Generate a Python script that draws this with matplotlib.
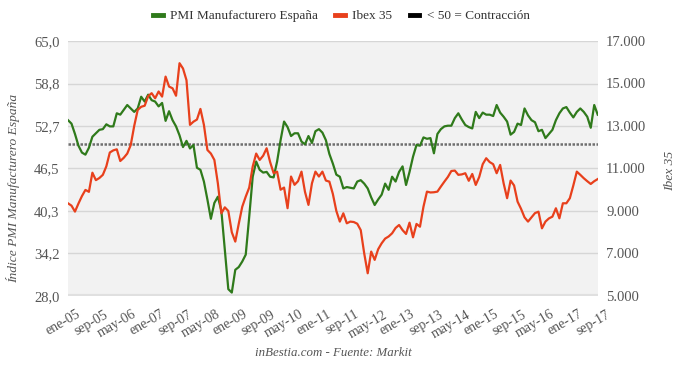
import matplotlib.pyplot as plt
import matplotlib.transforms as mtransforms
import numpy as np

# monthly data, ene-05 .. sep-17
pmi = [
    53.5, 53.0, 51.5, 49.8, 48.8, 48.5, 49.5, 51.1, 51.6, 52.1, 52.2, 52.9,
    52.6, 52.6, 54.5, 54.3, 55.0, 55.7, 55.2, 54.7, 55.2, 56.9, 56.2, 57.2,
    56.4, 56.2, 55.5, 56.0, 53.4, 54.8, 53.5, 52.6, 51.3, 49.6, 50.5, 49.4,
    49.9, 46.6, 46.3, 44.6, 42.0, 39.2, 41.5, 42.4, 40.4, 34.7, 29.0, 28.5,
    31.8, 32.2, 33.0, 34.0, 39.5, 45.3, 47.5, 46.3, 45.9, 46.0, 45.3, 45.2,
    47.5, 50.6, 53.3, 52.5, 51.2, 51.6, 51.6, 50.4, 50.0, 51.2, 50.2, 51.9,
    52.2, 51.7, 50.6, 48.6, 47.2, 45.6, 45.3, 43.6, 43.8, 43.7, 43.6, 44.6,
    44.8, 44.3, 43.6, 42.3, 41.2, 42.0, 42.7, 44.3, 43.4, 45.3, 44.6, 46.0,
    46.8, 44.1, 46.0, 48.2, 49.9, 49.8, 51.0, 50.8, 50.9, 48.7, 51.5, 52.2,
    52.6, 52.7, 52.7, 53.8, 54.5, 53.6, 52.8, 52.5, 52.3, 54.7, 53.8, 54.6,
    54.3, 54.3, 54.1, 55.7, 54.6, 54.0, 53.3, 51.4, 51.8, 53.0, 52.8, 55.2,
    54.2, 53.5, 53.2, 51.9, 52.1, 50.9, 51.5, 52.1, 53.5, 54.5, 55.2, 55.4,
    54.6, 53.9, 54.7, 55.2, 54.7, 54.0, 52.4, 55.7, 54.3,
]

ibex = [
    9360, 9250, 8970, 9350, 9700, 9990, 9900, 10800, 10450, 10550, 10700, 11100,
    11750, 11850, 11900, 11350, 11500, 11700, 12100, 13000, 13750, 13900, 13950, 14400,
    14540, 14300, 14620, 14380, 15320, 14850, 14770, 14420, 15950, 15700, 15150, 13050,
    13200, 13300, 13800, 13050, 11870, 11700, 11400, 10300, 8890, 9170, 9000, 8000,
    7560, 8400, 9200, 9675, 10100, 11090, 11700, 11400, 11600, 11950, 11300, 10780,
    10850, 10000, 10100, 9130, 10620, 10230, 10400, 10850, 9900, 9285, 10300, 10850,
    10620, 10850, 10430, 10380, 9800, 9000, 8500, 8890, 8420, 8500, 8480, 8400,
    8100, 7000, 6070, 7090, 6700, 7200, 7480, 7700, 7800, 7950, 8200, 8340,
    8100, 7920, 8450, 7760, 8390, 8260, 9200, 9910, 9870, 9880, 9910, 10150,
    10380, 10600, 10880, 10900, 10700, 10720, 10775, 10420, 10740, 10225, 10600, 11200,
    11480, 11300, 11200, 10775, 11165, 10300, 9600, 10430, 10200, 9440, 9100, 8700,
    8500, 8700, 8900, 8967, 8184, 8500, 8650, 8733, 9127, 8654, 9362, 9362,
    9600, 10200, 10850, 10700, 10540, 10400, 10270, 10400, 10500,
]

xlabels = ['ene-05', 'sep-05', 'may-06', 'ene-07', 'sep-07', 'may-08', 'ene-09',
           'sep-09', 'may-10', 'ene-11', 'sep-11', 'may-12', 'ene-13', 'sep-13',
           'may-14', 'ene-15', 'sep-15', 'may-16', 'ene-17', 'sep-17']
left_ticks = [28.0, 34.2, 40.3, 46.5, 52.7, 58.8, 65.0]
right_ticks = [5000, 7000, 9000, 11000, 13000, 15000, 17000]
contraccion = 50

plt.rcParams['font.family'] = ['Liberation Serif', 'DejaVu Serif']
text_col = '#555555'
green = '#2f7a1b'
red = '#e8401c'

fig = plt.figure(figsize=(6.8, 3.65), dpi=100)
ax = fig.add_axes([0.1, 0.189, 0.779, 0.699])
ax2 = ax.twinx()

x = np.arange(len(pmi))
ax.set_facecolor('#f2f2f2')
ax.set_xlim(0, len(pmi) - 1)
ax.set_ylim(28, 65)
ax2.set_ylim(5000, 17000)

ax.set_yticks(left_ticks)
ax.set_yticklabels([f'{v:.1f}'.replace('.', ',') for v in left_ticks])
ax2.set_yticks(right_ticks)
ax2.set_yticklabels([f'{v:,}'.replace(',', '.') for v in right_ticks])
for v in left_ticks[1:]:
    ax.axhline(v, color='#d6d6d6', lw=1, zorder=1)
ax.axhline(28, color='#e0e0e0', lw=3, zorder=1)

line_pmi, = ax.plot(x, pmi, color=green, lw=1.6, zorder=3)
line_50 = ax.axhline(contraccion, color='#6f6f6f', lw=1.8, ls=(0, (1, 0.6)), zorder=2)
line_ibex, = ax2.plot(x, ibex, color=red, lw=1.6, zorder=3)

for a in (ax, ax2):
    for s in a.spines.values():
        s.set_visible(False)
    a.tick_params(length=0, colors=text_col, labelsize=10.5)
ax.tick_params(axis='x', pad=5, labelsize=10)
ax.tick_params(axis='y', pad=6)
ax2.tick_params(axis='y', pad=6)

# x labels after tick_params, which would reset the transform
ax.set_xticks(np.arange(0, len(pmi), 8))
ax.set_xticklabels(xlabels, rotation=30, ha='right', rotation_mode='anchor')
shift = mtransforms.ScaledTranslation(8 / 100, -5 / 100, fig.dpi_scale_trans)
for lab in ax.get_xticklabels():
    lab.set_transform(lab.get_transform() + shift)

ax.set_ylabel('Índice PMI Manufacturero España', style='italic', color=text_col,
              fontsize=9.7)
ax.yaxis.set_label_coords(-0.09, 0.42)
ax2.set_ylabel('Ibex 35', style='italic', color=text_col, fontsize=9.7)
ax2.yaxis.set_label_coords(1.125, 0.49)

fig.text(0.49, 0.025, 'inBestia.com - Fuente: Markit', style='italic',
         color=text_col, fontsize=9.3, ha='center')

leg = fig.legend([line_pmi, line_ibex, line_50],
                 ['PMI Manufacturero España', 'Ibex 35', '< 50 = Contracción'],
                 loc='upper center', bbox_to_anchor=(0.502, 1.005), ncol=3,
                 frameon=False, fontsize=9.5, handlelength=0.75,
                 handletextpad=0.55, columnspacing=1.3)
for h, c in zip(leg.legend_handles, [green, red, '#000000']):
    h.set_color(c)
    h.set_linewidth(3.5)
    h.set_linestyle('-')
for t in leg.get_texts():
    t.set_color('#333333')

fig.savefig('out.png', dpi=100)
